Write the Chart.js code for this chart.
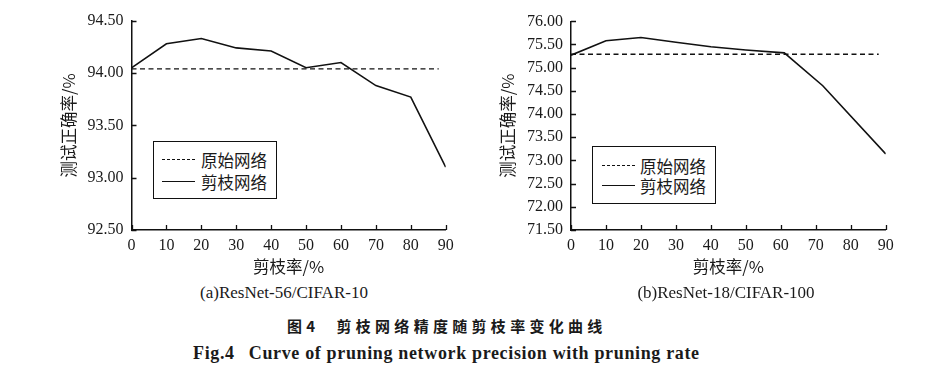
<!DOCTYPE html>
<html>
<head>
<meta charset="utf-8">
<script src="https://cdn.jsdelivr.net/npm/chart.js@4"></script>
<style>
  html, body { margin:0; padding:0; background:#fff; }
  body { width:929px; height:381px; position:relative; overflow:hidden; }
  .cv { position:absolute; top:0; }
  .txt { position:absolute; white-space:nowrap; color:#1a1a1a; line-height:1; }
  .ctr { text-align:center; width:300px; }
  .serif { font-family:"Liberation Serif","Times New Roman",serif; }
  .cjk { font-family:"Noto Sans CJK SC",sans-serif; }
  .legend { position:absolute; border:1.5px solid #111; background:#fff; box-sizing:border-box; }
  .lrow { position:absolute; left:0; width:120px; height:20px; }
  .lline { position:absolute; width:33px; top:9px; border-top:1.5px solid #111; }
  .lline.dash { border-top:1.5px dashed #111; }
  .ltxt { position:absolute; white-space:nowrap; font-family:"Noto Sans CJK SC",sans-serif; font-size:16.5px; color:#1a1a1a; top:0; line-height:20px; }
</style>
</head>
<body>
<div class="cv" style="left:0;width:465px;height:280px;"><canvas id="cA"></canvas></div>
<div class="cv" style="left:460px;width:469px;height:280px;"><canvas id="cB"></canvas></div>

<div class="legend" style="left:153px;top:141px;width:124px;height:58px;">
  <div class="lrow" style="top:8px;"><div class="lline dash" style="left:8px;"></div><div class="ltxt" style="left:47px;">原始网络</div></div>
  <div class="lrow" style="top:30px;"><div class="lline" style="left:8px;"></div><div class="ltxt" style="left:47px;">剪枝网络</div></div>
</div>
<div class="legend" style="left:592px;top:146px;width:124px;height:58px;">
  <div class="lrow" style="top:9px;"><div class="lline dash" style="left:9px;"></div><div class="ltxt" style="left:47px;">原始网络</div></div>
  <div class="lrow" style="top:29px;"><div class="lline" style="left:9px;"></div><div class="ltxt" style="left:47px;">剪枝网络</div></div>
</div>

<div class="txt serif ctr" style="left:134px;top:284px;font-size:17px;">(a)ResNet-56/CIFAR-10</div>
<div class="txt serif ctr" style="left:576px;top:284px;font-size:17px;">(b)ResNet-18/CIFAR-100</div>
<div class="txt cjk" style="left:287px;top:318px;font-size:15px;font-weight:bold;letter-spacing:4.3px;">图4<span style="display:inline-block;width:17px;"></span>剪枝网络精度随剪枝率变化曲线</div>
<div class="txt serif" style="left:193px;top:344px;font-size:18px;font-weight:bold;letter-spacing:0.65px;">Fig.4<span style="display:inline-block;width:14px;"></span>Curve of pruning network precision with pruning rate</div>

<script>
// ---- data ----
const ratesA = [0, 10, 20, 30, 40, 50, 60, 70, 80, 90];
const accA   = [94.05, 94.28, 94.33, 94.24, 94.21, 94.05, 94.10, 93.88, 93.77, 93.10];
const baseA  = 94.04;

const ratesB = [0, 10, 20, 30, 40, 50, 61, 72, 90];
const accB   = [75.27, 75.58, 75.65, 75.55, 75.45, 75.38, 75.32, 74.61, 73.14];
const baseB  = 75.29;

const baseRange = [0, 88];
const xTicks = [0, 10, 20, 30, 40, 50, 60, 70, 80, 90];
const yTicksA = [92.5, 93.0, 93.5, 94.0, 94.5];
const yTicksB = [71.5, 72.0, 72.5, 73.0, 73.5, 74.0, 74.5, 75.0, 75.5, 76.0];

const legendLabels = ['原始网络', '剪枝网络'];
const xTitle = '剪枝率/%';
const yTitle = '测试正确率/%';

const INK = '#111';
const TXT = '#1a1a1a';
const SERIF = "'Liberation Serif', 'Times New Roman', serif";
const CJK = "'Noto Sans CJK SC', sans-serif";

Chart.defaults.font.family = SERIF;
Chart.defaults.color = TXT;

const inwardTicks = {
  id: 'inwardTicks',
  afterDraw(chart) {
    const ctx = chart.ctx;
    const {x, y} = chart.scales;
    ctx.save();
    ctx.strokeStyle = INK;
    ctx.lineWidth = 1.3;
    ctx.beginPath();
    x.ticks.forEach(t => {
      const px = Math.round(x.getPixelForValue(t.value)) + 0.5;
      ctx.moveTo(px, y.bottom);
      ctx.lineTo(px, y.bottom - 5);
    });
    y.ticks.forEach(t => {
      const py = Math.round(y.getPixelForValue(t.value)) + 0.5;
      ctx.moveTo(x.left, py);
      ctx.lineTo(x.left + 5, py);
    });
    ctx.stroke();
    ctx.restore();
  }
};

function makeChart(id, rates, acc, base, yTicks, geo) {
  const lineData = rates.map((r, i) => ({x: r, y: acc[i]}));
  const baseData = baseRange.map(r => ({x: r, y: base}));
  return new Chart(document.getElementById(id), {
    type: 'line',
    data: {
      datasets: [
        { label: legendLabels[0], data: baseData, borderColor: INK, borderWidth: 1.4,
          borderDash: [5, 3.5], pointRadius: 0, fill: false, tension: 0 },
        { label: legendLabels[1], data: lineData, borderColor: INK, borderWidth: 1.6,
          pointRadius: 0, fill: false, tension: 0 }
      ]
    },
    options: {
      responsive: true,
      maintainAspectRatio: false,
      animation: false,
      devicePixelRatio: 1,
      layout: { padding: geo.padding },
      plugins: { legend: { display: false }, tooltip: { enabled: false } },
      scales: {
        x: {
          type: 'linear', min: 0, max: 90,
          afterBuildTicks: s => { s.ticks = xTicks.map(v => ({value: v})); },
          afterFit: s => { s.height = geo.xHeight; },
          grid: { display: true, drawOnChartArea: false, drawTicks: false },
          border: { display: true, color: INK, width: 1.5 },
          ticks: { padding: 6, color: TXT, maxRotation: 0,
                   font: { family: SERIF, size: 16 },
                   callback: v => String(v) },
          title: { display: true, text: xTitle, color: TXT, padding: {top: 0, bottom: geo.xTitlePad},
                   font: { family: CJK, size: 16.5 } }
        },
        y: {
          type: 'linear', min: yTicks[0], max: yTicks[yTicks.length - 1],
          afterBuildTicks: s => { s.ticks = yTicks.map(v => ({value: v})); },
          afterFit: s => { s.width = geo.yWidth; },
          grid: { display: true, drawOnChartArea: false, drawTicks: false },
          border: { display: true, color: INK, width: 1.5 },
          ticks: { padding: 8, color: TXT,
                   font: { family: SERIF, size: 16 },
                   callback: v => Number(v).toFixed(2) },
          title: { display: true, text: yTitle, color: TXT, padding: {top: geo.yTitlePad, bottom: 0},
                   font: { family: CJK, size: 16.5 } }
        }
      }
    },
    plugins: [inwardTicks]
  });
}

makeChart('cA', ratesA, accA, baseA, yTicksA,
  { padding: {left: 50, top: 20.7, right: 19.3, bottom: 2}, yWidth: 81.5, xHeight: 48, xTitlePad: 1, yTitlePad: 8.5 });
makeChart('cB', ratesB, accB, baseB, yTicksB,
  { padding: {left: 30, top: 21.3, right: 43.3, bottom: 2}, yWidth: 81, xHeight: 48, xTitlePad: 1, yTitlePad: 8.2 });
</script>
</body>
</html>
